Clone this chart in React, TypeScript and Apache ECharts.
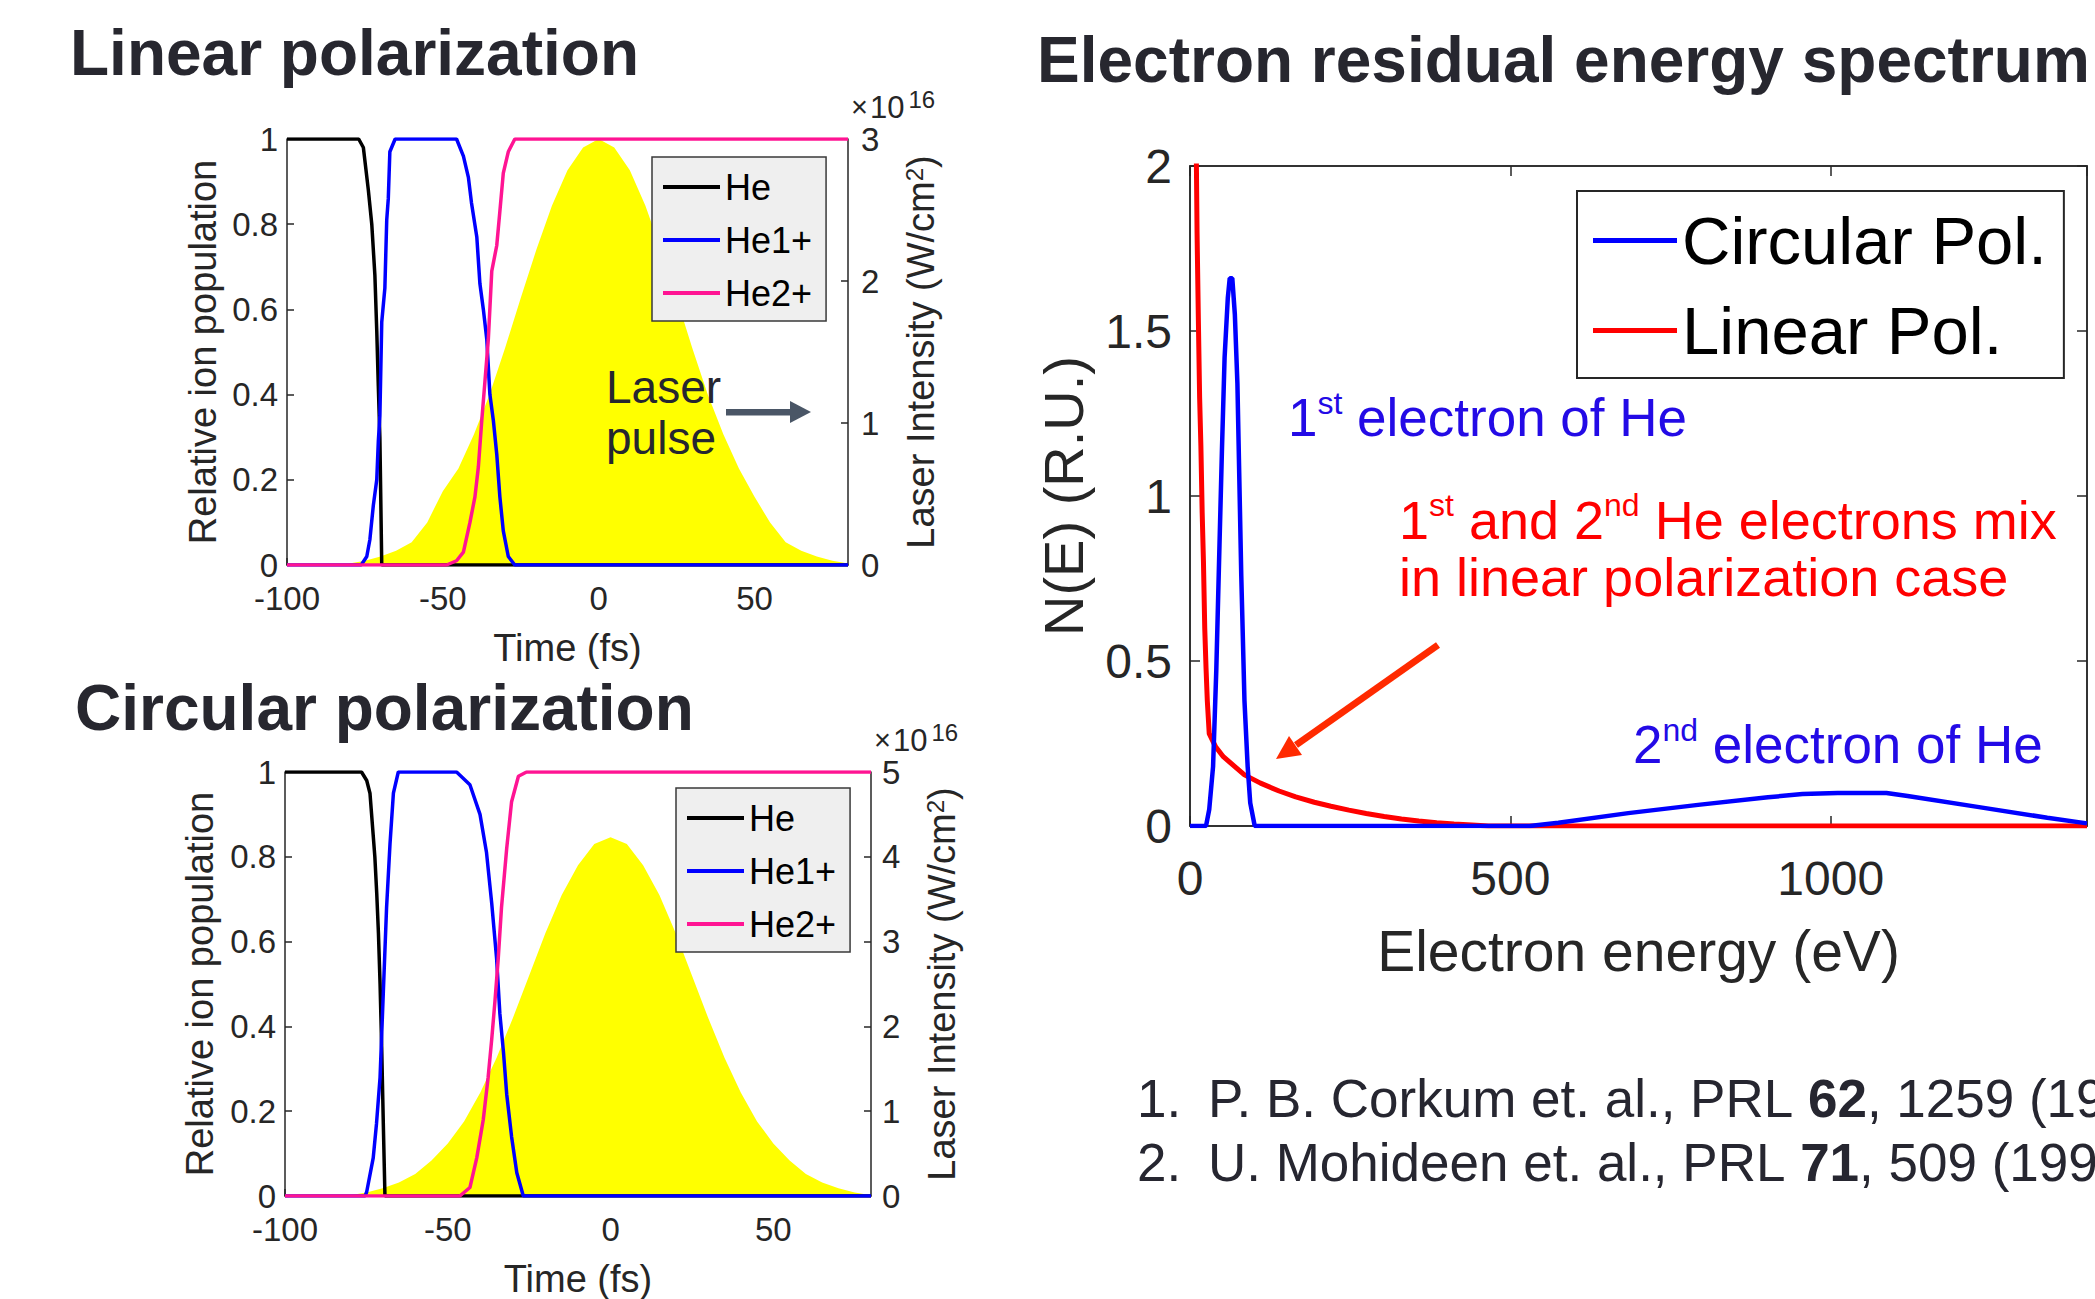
import React, { useEffect, useRef } from "react";
import * as echarts from "echarts";

const FONT = "'Liberation Sans', Arial, Helvetica, sans-serif";
const AXIS_GRAY = "#262626";
const TITLE_COLOR = "#27272f";

// ---------- Linear polarization: relative ion population vs time (fs) ----------
const LIN_HE = [
  [-100, 1], [-77, 1], [-75.5, 0.98], [-73.9, 0.88], [-72.8, 0.8], [-71.8, 0.68],
  [-71.2, 0.55], [-70.7, 0.42], [-70.2, 0.3], [-69.6, 0], [80, 0],
];
const LIN_HE1 = [
  [-100, 0], [-76.2, 0], [-74.4, 0.02], [-73.4, 0.06], [-72.3, 0.14], [-71.2, 0.2],
  [-70.7, 0.29], [-70.2, 0.35], [-69.6, 0.57], [-68.6, 0.65], [-68.0, 0.81],
  [-67.5, 0.86], [-67.0, 0.97], [-65.3, 1], [-45.6, 1], [-43.4, 0.96], [-41.8, 0.91],
  [-40.8, 0.85], [-39.1, 0.77], [-38.1, 0.66], [-37.0, 0.6], [-35.9, 0.53],
  [-34.9, 0.4], [-33.8, 0.34], [-32.7, 0.26], [-31.7, 0.16], [-30.6, 0.08],
  [-29.0, 0.02], [-26.9, 0], [80, 0],
];
const LIN_HE2 = [
  [-100, 0], [-48.8, 0], [-45.6, 0.01], [-43.4, 0.03], [-41.3, 0.1], [-39.7, 0.16],
  [-38.6, 0.23], [-37.5, 0.34], [-36.5, 0.43], [-35.4, 0.53], [-34.3, 0.69],
  [-32.7, 0.75], [-31.7, 0.83], [-30.6, 0.92], [-29.0, 0.97], [-26.9, 1], [80, 1],
];

// ---------- Circular polarization: relative ion population vs time (fs) ----------
const CIRC_HE = [
  [-100, 1], [-76.5, 1], [-74.9, 0.98], [-73.9, 0.95], [-73.4, 0.9], [-72.4, 0.8],
  [-71.8, 0.71], [-71.3, 0.62], [-70.8, 0.5], [-70.3, 0.35], [-69.8, 0.17],
  [-69.3, 0], [80, 0],
];
const CIRC_HE1 = [
  [-100, 0], [-75.4, 0], [-74.9, 0.01], [-72.9, 0.09], [-71.9, 0.17], [-70.8, 0.28],
  [-69.8, 0.48], [-68.8, 0.68], [-67.75, 0.83], [-66.7, 0.95], [-65.2, 1],
  [-47.3, 1], [-43.2, 0.97], [-40.1, 0.9], [-38.1, 0.81], [-36.5, 0.69], [-35.0, 0.56],
  [-34.0, 0.43], [-32.9, 0.34], [-31.9, 0.24], [-30.4, 0.14], [-28.8, 0.055],
  [-26.8, 0], [80, 0],
];
const CIRC_HE2 = [
  [-100, 0], [-46.3, 0], [-43.2, 0.02], [-41.1, 0.09], [-39.1, 0.18], [-37.6, 0.28],
  [-36.5, 0.37], [-35.5, 0.46], [-34.5, 0.56], [-33.5, 0.68], [-31.9, 0.82],
  [-30.4, 0.93], [-28.3, 0.99], [-25.8, 1], [80, 1],
];

// ---------- Laser pulse intensity (x1e16 W/cm^2), sampled every 5 fs ----------
const PULSE_T = [
  -80, -75, -70, -65, -60, -55, -50, -45, -40, -35, -30, -25, -20, -15, -10, -5, 0,
  5, 10, 15, 20, 25, 30, 35, 40, 45, 50, 55, 60, 65, 70, 75, 80,
];
const LIN_PULSE = [
  0.01, 0.03, 0.06, 0.1, 0.16, 0.3, 0.52, 0.68, 0.92, 1.2, 1.53, 1.88, 2.22, 2.53,
  2.78, 2.94, 3.0, 2.94, 2.78, 2.53, 2.22, 1.88, 1.53, 1.2, 0.92, 0.68, 0.48, 0.3,
  0.16, 0.1, 0.06, 0.03, 0.01,
];
const CIRC_PULSE = [
  0.01, 0.04, 0.09, 0.16, 0.26, 0.42, 0.62, 0.88, 1.22, 1.63, 2.1, 2.6, 3.1, 3.55,
  3.9, 4.15, 4.23, 4.15, 3.9, 3.55, 3.1, 2.6, 2.1, 1.63, 1.22, 0.88, 0.62, 0.42,
  0.26, 0.16, 0.09, 0.04, 0.01,
];

// ---------- Electron residual energy spectrum: [energy (eV), N(E)] ----------
const SPEC_CIRCULAR = [
  [0, 0], [25, 0], [30, 0.05], [36, 0.18], [41, 0.47], [46, 0.85], [50, 1.15],
  [54, 1.42], [59, 1.6], [62, 1.66], [66, 1.66], [70, 1.55], [74, 1.34], [77, 1.05],
  [80, 0.76], [85, 0.38], [90, 0.18], [94, 0.07], [101, 0], [530, 0], [575, 0.01],
  [684, 0.039], [793, 0.064], [902, 0.087], [956, 0.097], [1011, 0.1], [1087, 0.1],
  [1120, 0.091], [1229, 0.058], [1338, 0.025], [1400, 0.008],
];
const SPEC_LINEAR = [
  [9, 2.3], [10, 2.0], [11, 1.8], [13, 1.54], [15, 1.3], [17, 1.15], [19, 0.95],
  [21, 0.8], [23, 0.6], [25, 0.48], [27, 0.38], [30, 0.28], [40, 0.24], [52, 0.21],
  [70, 0.18], [85, 0.155], [110, 0.13], [139, 0.106], [165, 0.088], [194, 0.072],
  [220, 0.06], [248, 0.048], [275, 0.038], [303, 0.029], [330, 0.021], [357, 0.015],
  [385, 0.01], [412, 0.006], [440, 0.003], [466, 0], [1400, 0],
];

const ION_NAMES = ["He", "He1+", "He2+"];
const ION_COLORS = ["#000000", "#0000ff", "#ff1493"];
const SPEC_NAMES = ["Circular Pol.", "Linear Pol."];
const SPEC_COLORS = ["#0000ff", "#ff0000"];

const plainNumber = (v: number) => String(Math.round(v * 1000) / 1000);

const tickLabel = (size: number, margin: number, extra: any = {}) => ({
  color: AXIS_GRAY,
  fontSize: size,
  fontFamily: FONT,
  margin,
  formatter: plainNumber,
  ...extra,
});

const axisLine = (w = 1.5) => ({ show: true, onZero: false, lineStyle: { color: AXIS_GRAY, width: w } });
const insideTick = (len: number) => ({ show: true, inside: true, length: len, lineStyle: { color: AXIS_GRAY, width: 1.5 } });

const nameStyle = (size: number) => ({
  color: AXIS_GRAY,
  fontSize: size,
  fontFamily: FONT,
  rich: { sup: { fontSize: Math.round(size * 0.62), fontFamily: FONT, color: AXIS_GRAY, verticalAlign: "top" } },
});

function ionSeries(data: number[][], idx: number, xi: number, yi: number) {
  return {
    type: "line",
    name: ION_NAMES[idx],
    data,
    xAxisIndex: xi,
    yAxisIndex: yi,
    symbol: "none",
    showSymbol: false,
    lineStyle: { color: ION_COLORS[idx], width: 3.5 },
    itemStyle: { color: ION_COLORS[idx] },
    z: 3 + idx,
    silent: true,
  };
}

function pulseSeries(values: number[], xi: number, yi: number) {
  return {
    type: "line",
    name: "Laser pulse",
    data: PULSE_T.map((t, i) => [t, values[i]]),
    xAxisIndex: xi,
    yAxisIndex: yi,
    symbol: "none",
    showSymbol: false,
    lineStyle: { width: 0, color: "#ffff00" },
    areaStyle: { color: "#ffff00", opacity: 1 },
    itemStyle: { color: "#ffff00" },
    z: 1,
    silent: true,
  };
}

function ionLegend(left: number, top: number) {
  return {
    data: ION_NAMES,
    orient: "vertical",
    left,
    top,
    icon: "rect",
    itemWidth: 57,
    itemHeight: 4,
    itemGap: 15,
    padding: [11, 14, 9, 11],
    backgroundColor: "#efefef",
    borderColor: "#3a3a3a",
    borderWidth: 1.5,
    selectedMode: false,
    textStyle: { color: "#000", fontSize: 36, lineHeight: 38, fontFamily: FONT },
  };
}

const txt = (x: number, y: number, text: string, size: number, fill: string, extra: any = {}) => ({
  type: "text",
  x,
  y,
  z: 100,
  silent: true,
  style: {
    text,
    fill,
    fontSize: size,
    fontFamily: FONT,
    verticalAlign: "middle",
    align: "left",
    ...extra,
  },
});

const supRich = (size: number, fill: string) => ({
  n: { fontSize: size, fill, fontFamily: FONT, lineHeight: size * 1.15 },
  s: { fontSize: Math.round(size * 0.6), fill, fontFamily: FONT, verticalAlign: "top", lineHeight: size * 0.7 },
  b: { fontSize: size, fill, fontFamily: FONT, fontWeight: "bold", lineHeight: size * 1.15 },
});

const exponentRich = {
  x: { fontSize: 29, fill: AXIS_GRAY, fontFamily: FONT, padding: [0, 2, 0, 0], lineHeight: 40 },
  t: { fontSize: 31, fill: AXIS_GRAY, fontFamily: FONT, lineHeight: 40 },
  e: { fontSize: 24, fill: AXIS_GRAY, fontFamily: FONT, verticalAlign: "top", lineHeight: 12, padding: [0, 0, 0, 4] },
};

// Red arrow pointing at the linear-polarization tail
const RED_ARROW = { x1: 1438, y1: 645, x2: 1296, y2: 745, tip: [1276, 759], c1: [1302, 755], c2: [1289, 736] };
// Grey "Laser pulse" arrow pointing to the right-hand axis
const GREY_ARROW = { x: 726, y: 409, w: 65, h: 6.5, tip: [811, 412], c1: [790, 401], c2: [790, 423] };

const option: any = {
  animation: false,
  backgroundColor: "#ffffff",
  textStyle: { fontFamily: FONT },
  grid: [
    { left: 287, top: 139, width: 561, height: 426, containLabel: false },
    { left: 285, top: 772, width: 586, height: 425, containLabel: false },
    { left: 1190, top: 166, width: 897, height: 660, containLabel: false, show: true, borderColor: AXIS_GRAY, borderWidth: 1.5, backgroundColor: "transparent" },
  ],
  xAxis: [
    {
      gridIndex: 0, type: "value", min: -100, max: 80, interval: 50,
      axisLine: axisLine(), axisTick: insideTick(7), splitLine: { show: false },
      axisLabel: tickLabel(33, 17, { showMaxLabel: false }),
      name: "Time (fs)", nameLocation: "middle", nameGap: 64, nameTextStyle: nameStyle(38),
    },
    {
      gridIndex: 1, type: "value", min: -100, max: 80, interval: 50,
      axisLine: axisLine(), axisTick: insideTick(7), splitLine: { show: false },
      axisLabel: tickLabel(33, 17, { showMaxLabel: false }),
      name: "Time (fs)", nameLocation: "middle", nameGap: 64, nameTextStyle: nameStyle(38),
    },
    {
      gridIndex: 2, type: "value", min: 0, max: 1400, interval: 500,
      axisLine: axisLine(), axisTick: insideTick(10), splitLine: { show: false },
      axisLabel: tickLabel(48, 28, { showMaxLabel: false }),
      name: "Electron energy (eV)", nameLocation: "middle", nameGap: 96, nameTextStyle: nameStyle(57),
    },
    {
      gridIndex: 2, type: "value", position: "top", min: 0, max: 1400, interval: 500,
      axisLine: axisLine(), axisTick: insideTick(10), splitLine: { show: false },
      axisLabel: { show: false },
    },
  ],
  yAxis: [
    {
      gridIndex: 0, type: "value", min: 0, max: 1, interval: 0.2,
      axisLine: axisLine(), axisTick: insideTick(7), splitLine: { show: false },
      axisLabel: tickLabel(33, 9),
      name: "Relative ion population", nameLocation: "middle", nameGap: 65, nameRotate: 90,
      nameTextStyle: nameStyle(38),
    },
    {
      gridIndex: 0, type: "value", position: "right", min: 0, max: 3, interval: 1,
      axisLine: axisLine(), axisTick: insideTick(7), splitLine: { show: false },
      axisLabel: tickLabel(33, 13),
      name: "Laser Intensity (W/cm{sup|2})", nameLocation: "middle", nameGap: 54, nameRotate: 90,
      nameTextStyle: nameStyle(38),
    },
    {
      gridIndex: 1, type: "value", min: 0, max: 1, interval: 0.2,
      axisLine: axisLine(), axisTick: insideTick(7), splitLine: { show: false },
      axisLabel: tickLabel(33, 9),
      name: "Relative ion population", nameLocation: "middle", nameGap: 66, nameRotate: 90,
      nameTextStyle: nameStyle(38),
    },
    {
      gridIndex: 1, type: "value", position: "right", min: 0, max: 5, interval: 1,
      axisLine: axisLine(), axisTick: insideTick(7), splitLine: { show: false },
      axisLabel: tickLabel(33, 11),
      name: "Laser Intensity (W/cm{sup|2})", nameLocation: "middle", nameGap: 52, nameRotate: 90,
      nameTextStyle: nameStyle(38),
    },
    {
      gridIndex: 2, type: "value", min: 0, max: 2, interval: 0.5,
      axisLine: axisLine(), axisTick: insideTick(10), splitLine: { show: false },
      axisLabel: tickLabel(48, 18),
      name: "N(E) (R.U.)", nameLocation: "middle", nameGap: 99, nameRotate: 90,
      nameTextStyle: nameStyle(56),
    },
    {
      gridIndex: 2, type: "value", position: "right", min: 0, max: 2, interval: 0.5,
      axisLine: axisLine(), axisTick: insideTick(10), splitLine: { show: false },
      axisLabel: { show: false },
    },
  ],
  legend: [
    ionLegend(652, 157),
    ionLegend(676, 788),
    {
      data: SPEC_NAMES,
      orient: "vertical",
      left: 1577,
      top: 191,
      icon: "rect",
      itemWidth: 84,
      itemHeight: 5,
      itemGap: 23,
      padding: [16, 17, 14, 16],
      backgroundColor: "#ffffff",
      borderColor: "#262626",
      borderWidth: 2,
      selectedMode: false,
      textStyle: { color: "#000", fontSize: 67, lineHeight: 67, fontFamily: FONT },
    },
  ],
  series: [
    pulseSeries(LIN_PULSE, 0, 1),
    ionSeries(LIN_HE, 0, 0, 0),
    ionSeries(LIN_HE1, 1, 0, 0),
    ionSeries(LIN_HE2, 2, 0, 0),
    pulseSeries(CIRC_PULSE, 1, 3),
    ionSeries(CIRC_HE, 0, 1, 2),
    ionSeries(CIRC_HE1, 1, 1, 2),
    ionSeries(CIRC_HE2, 2, 1, 2),
    {
      type: "line", name: SPEC_NAMES[1], data: SPEC_LINEAR, xAxisIndex: 2, yAxisIndex: 4,
      symbol: "none", showSymbol: false, clip: true,
      lineStyle: { color: SPEC_COLORS[1], width: 5 }, itemStyle: { color: SPEC_COLORS[1] }, z: 3, silent: true,
    },
    {
      type: "line", name: SPEC_NAMES[0], data: SPEC_CIRCULAR, xAxisIndex: 2, yAxisIndex: 4,
      symbol: "none", showSymbol: false, clip: true,
      lineStyle: { color: SPEC_COLORS[0], width: 4.5 }, itemStyle: { color: SPEC_COLORS[0] }, z: 4, silent: true,
    },
  ],
  graphic: [
    // panel titles
    txt(70, 53, "Linear polarization", 64, TITLE_COLOR, { fontWeight: "bold" }),
    txt(75, 708, "Circular polarization", 64, TITLE_COLOR, { fontWeight: "bold" }),
    txt(1037, 60, "Electron residual energy spectrum", 64, TITLE_COLOR, { fontWeight: "bold" }),

    // exponent labels of the intensity axes
    txt(851, 107, "{x|×}{t|10}{e|16}", 31, AXIS_GRAY, { rich: exponentRich }),
    txt(874, 740, "{x|×}{t|10}{e|16}", 31, AXIS_GRAY, { rich: exponentRich }),

    // "Laser pulse" callout
    txt(606, 387, "Laser", 46, "#262630"),
    txt(606, 438, "pulse", 46, "#262630"),
    {
      type: "rect", z: 100, silent: true,
      shape: { x: GREY_ARROW.x, y: GREY_ARROW.y, width: GREY_ARROW.w, height: GREY_ARROW.h },
      style: { fill: "#4a5666" },
    },
    {
      type: "polygon", z: 100, silent: true,
      shape: { points: [GREY_ARROW.tip, GREY_ARROW.c1, GREY_ARROW.c2] },
      style: { fill: "#4a5666" },
    },

    // spectrum annotations
    txt(1288, 417, "{n|1}{s|st}{n| electron of He}", 53, "#230ae6", { rich: supRich(53, "#230ae6") }),
    txt(1399, 520, "{n|1}{s|st}{n| and 2}{s|nd}{n| He electrons mix}", 54, "#ff0000", { rich: supRich(54, "#ff0000") }),
    txt(1399, 577, "in linear polarization case", 54, "#ff0000"),
    txt(1633, 744, "{n|2}{s|nd}{n| electron of He}", 53, "#230ae6", { rich: supRich(53, "#230ae6") }),
    {
      type: "line", z: 100, silent: true,
      shape: { x1: RED_ARROW.x1, y1: RED_ARROW.y1, x2: RED_ARROW.x2, y2: RED_ARROW.y2 },
      style: { stroke: "#ff2a00", lineWidth: 7 },
    },
    {
      type: "polygon", z: 100, silent: true,
      shape: { points: [RED_ARROW.tip, RED_ARROW.c1, RED_ARROW.c2] },
      style: { fill: "#ff2a00" },
    },

    // references
    txt(1137, 1098, "1.", 53, "#262630"),
    txt(1208, 1098, "{n|P. B. Corkum et. al., PRL }{b|62}{n|, 1259 (1989)}", 53, "#262630", { rich: supRich(53, "#262630") }),
    txt(1137, 1162, "2.", 53, "#262630"),
    txt(1208, 1162, "{n|U. Mohideen et. al., PRL }{b|71}{n|, 509 (1993)}", 53, "#262630", { rich: supRich(53, "#262630") }),
  ],
};

export default function App() {
  const ref = useRef<HTMLDivElement>(null);
  useEffect(() => {
    if (!ref.current) return;
    const chart = echarts.init(ref.current, null, { renderer: "svg" });
    chart.setOption(option);
    return () => chart.dispose();
  }, []);
  return (
    <div
      ref={ref}
      style={{ position: "fixed", left: 0, top: 0, width: 2095, height: 1299, background: "#ffffff" }}
    />
  );
}
